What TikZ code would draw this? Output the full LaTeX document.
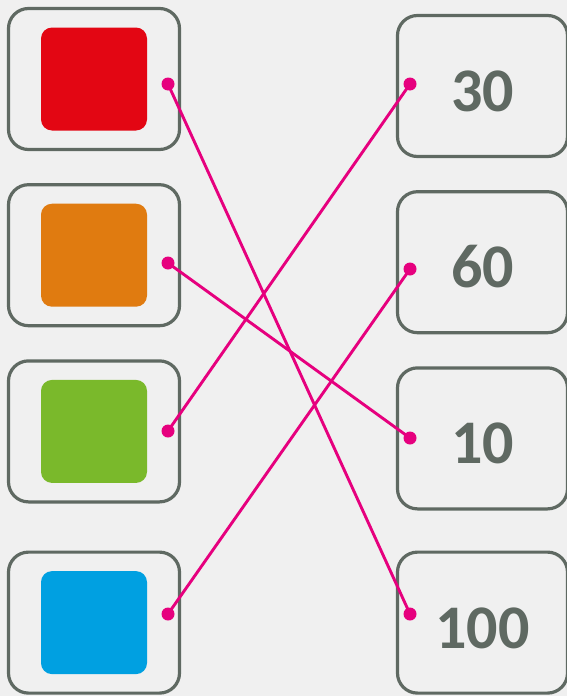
\documentclass[tikz,border=0pt]{standalone}
\usepackage{fontspec}
\setmainfont{Carlito}
\usetikzlibrary{positioning}
\definecolor{boxgray}{RGB}{95,105,98}
\definecolor{sqred}{RGB}{227,6,19}
\definecolor{sqorange}{RGB}{224,123,16}
\definecolor{sqgreen}{RGB}{122,185,43}
\definecolor{sqblue}{RGB}{0,160,225}
\definecolor{linkpink}{RGB}{230,0,126}
\definecolor{bggray}{RGB}{240,240,240}

\begin{document}
\begin{tikzpicture}[
        x=1pt, y=-1pt,
        card/.style={rectangle, draw=boxgray, line width=3.2pt, minimum width=171pt, minimum height=141pt, rounded corners=20pt},
        swatch/.style={rectangle, minimum width=106pt, minimum height=103pt, rounded corners=11pt},
        amount/.style={card, minimum width=170pt, text=boxgray, font=\fontsize{62}{66}\selectfont\bfseries, text height=51pt, text depth=0pt},
        dot/.style={circle, fill=linkpink, inner sep=0pt, minimum size=13pt},
        link/.style={draw=linkpink, line width=2.9pt}
    ]
        \fill[bggray] (0,0) rectangle (567,696);
        \useasboundingbox (0,0) rectangle (567,696);

        % colour cards
        \node[card] (L1) at (94,79) {};
        \node[card, below=32pt of L1] (L2) {};
        \node[card, below=32pt of L2] (L3) {};
        \node[card, below=47pt of L3] (L4) {};
        \node[swatch, fill=sqred] (S1) at (L1.center) {};
        \node[swatch, fill=sqorange] (S2) at (L2.center) {};
        \node[swatch, fill=sqgreen] (S3) at (L3.center) {};
        \node[swatch, fill=sqblue] (S4) at (L4.center) {};

        % number cards
        \node[amount] (R1) at (482.5,86) {30};
        \node[amount, below=32pt of R1] (R2) {60};
        \node[amount, below=32pt of R2] (R3) {10};
        \node[amount, below=40pt of R3] (R4) {100};

        % links
        \node[dot] (P1) at (168,84) {};
        \node[dot] (P2) at (168,263) {};
        \node[dot] (P3) at (168,431) {};
        \node[dot] (P4) at (168,614) {};
        \node[dot] (Q1) at (410,84) {};
        \node[dot] (Q2) at (410,269) {};
        \node[dot] (Q3) at (410,438) {};
        \node[dot] (Q4) at (410,614) {};
        \draw[link] (P1.center) -- (Q4.center);
        \draw[link] (P2.center) -- (Q3.center);
        \draw[link] (P3.center) -- (Q1.center);
        \draw[link] (P4.center) -- (Q2.center);
    \end{tikzpicture}
\end{document}
